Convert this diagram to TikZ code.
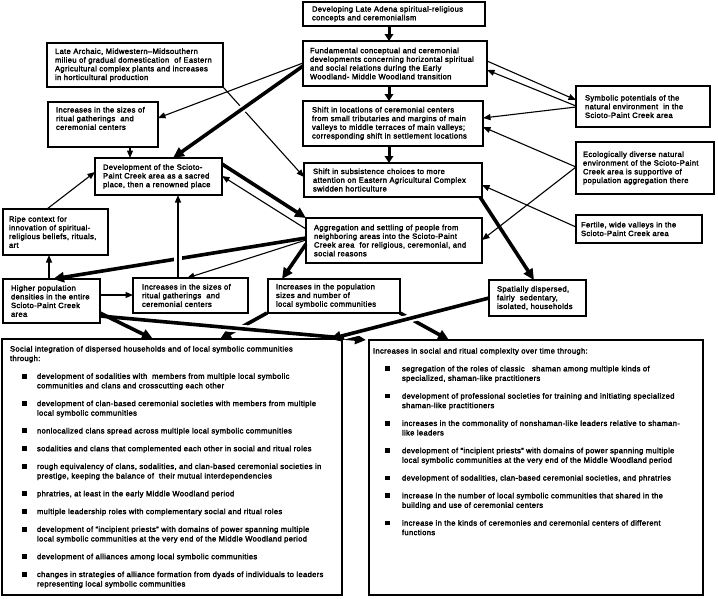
\documentclass[tikz,border=0pt]{standalone}
\usepackage{fontspec}
\setmainfont{Liberation Sans}[LetterSpace=4.5,FakeBold=2.5]
\usetikzlibrary{arrows.meta,calc}
\newcommand\bitem[2]{\par\hangindent=\dimexpr12pt+#1\relax\hangafter=1\relax\noindent\hspace*{12pt}\makebox[#1][l]{\rule[0.2pt]{4.8pt}{4.8pt}}#2}
\newcommand\bigsetup{\fontsize{7.6}{9.5}\selectfont\parindent=0pt\parskip=0pt\rightskip=0pt plus 1fil\relax}
\begin{document}
\begin{tikzpicture}[x=1pt,y=-1pt,
  sbox/.style={draw,line width=1.4pt,anchor=north west,outer sep=0pt,inner xsep=8pt,inner ysep=0pt,align=left,font=\fontsize{7.6}{8.7}\selectfont},
  bbox/.style={draw,line width=1.4pt,anchor=north west,outer sep=0pt,inner ysep=0pt},
  thinarr/.style={line width=1.1pt,-{Triangle[length=7.5pt,width=6pt]}},
  thickarr/.style={line width=3.6pt,-{Triangle[length=11pt,width=10pt]}},
  midarr/.style={line width=3pt,-{Triangle[length=7pt,width=8.5pt]}},
  halo/.style 2 args={preaction={draw=white,line width=8pt,-,shorten <=#1,shorten >=#2}},
]
\useasboundingbox (0,0) rectangle (718,598);
\path[fill=white] (0,0) rectangle (718,598);

% small boxes
\node[sbox,minimum width=182pt,minimum height=24pt,text width=164pt,inner xsep=9pt] (top) at (303,2)
  {Developing Late Adena spiritual-religious\\concepts and ceremonialism};
\node[sbox,minimum width=184pt,minimum height=45pt,text width=170pt,inner xsep=7pt] (fund) at (303,41)
  {Fundamental conceptual and ceremonial\\developments concerning horizontal spiritual\\and social relations during the Early\\Woodland- Middle Woodland transition};
\node[sbox,minimum width=176pt,minimum height=44pt,text width=160pt] (arch) at (47,43)
  {Late Archaic, Midwestern–Midsouthern\\milieu of gradual domestication\ \ of Eastern\\Agricultural complex plants and increases\\in horticultural production};
\node[sbox,minimum width=110pt,minimum height=45pt,text width=94pt] (inc1) at (48,102)
  {Increases in the sizes of\\ritual gatherings\ \ and\\ceremonial centers\\[3.5pt]\mbox{}};
\node[sbox,minimum width=180pt,minimum height=45pt,text width=162pt,inner xsep=9pt] (loc) at (303,101)
  {Shift in locations of ceremonial centers\\from small tributaries and margins of main\\valleys to middle terraces of main valleys;\\corresponding shift in settlement locations};
\node[sbox,minimum width=134pt,minimum height=41pt,text width=116pt,inner xsep=9pt] (sym) at (576,86)
  {Symbolic potentials of the\\natural environment\ \ in the\\Scioto-Paint Creek area};
\node[sbox,minimum width=178pt,minimum height=34pt,text width=160pt,inner xsep=9pt] (subs) at (304,163)
  {Shift in subsistence choices to more\\attention on Eastern Agricultural Complex\\swidden horticulture};
\node[sbox,minimum width=138pt,minimum height=52pt,text width=124pt,inner xsep=7pt] (eco) at (576,142)
  {Ecologically diverse natural\\environment of the Scioto-Paint\\Creek area is supportive of\\population aggregation there};
\node[sbox,minimum width=126pt,minimum height=28pt,text width=116pt,inner xsep=5pt] (fert) at (576,215)
  {Fertile, wide valleys in the\\Scioto-Paint Creek area};
\node[sbox,minimum width=127pt,minimum height=37pt,text width=111pt] (dev) at (95,158)
  {Development of the Scioto-\\Paint Creek area as a sacred\\place, then a renowned place};
\node[sbox,minimum width=105pt,minimum height=46pt,text width=93pt,inner xsep=6pt] (ripe) at (3,209)
  {Ripe context for\\innovation of spiritual-\\religious beliefs, rituals,\\art};
\node[sbox,minimum width=176pt,minimum height=45pt,text width=160pt] (agg) at (306,218)
  {Aggregation and settling of people from\\neighboring areas into the Scioto-Paint\\Creek area\ \ for religious, ceremonial, and\\social reasons};
\node[sbox,minimum width=97pt,minimum height=44pt,text width=81pt] (high) at (3,279)
  {Higher population\\densities in the entire\\Scioto-Paint Creek\\area};
\node[sbox,minimum width=115pt,minimum height=35pt,text width=97pt,inner xsep=9pt] (inc2) at (133,278)
  {Increases in the sizes of\\ritual gatherings\ \ and\\ceremonial centers};
\node[sbox,minimum width=132pt,minimum height=34pt,text width=116pt] (pop) at (268,279)
  {Increases in the population\\sizes and number of\\local symbolic communities};
\node[sbox,minimum width=97pt,minimum height=36pt,text width=81pt] (spat) at (489,280)
  {Spatially dispersed,\\fairly\ \ sedentary,\\isolated, households};

% big boxes
\node[bbox,inner xsep=8pt] (social) at (2,339) {\vbox to 256pt{\hsize=324pt\bigsetup\vskip 7pt
\noindent Social integration of dispersed households and of local symbolic communities\\through:\par\parskip=8.3pt
\bitem{15pt}{development of sodalities with\ \ members from multiple local symbolic\\communities and clans and crosscutting each other}
\bitem{15pt}{development of clan-based ceremonial societies with members from multiple\\local symbolic communities}
\bitem{15pt}{nonlocalized clans spread across multiple local symbolic communities}
\bitem{15pt}{sodalities and clans that complemented each other in social and ritual roles}
\bitem{15pt}{rough equivalency of clans, sodalities, and clan-based ceremonial societies in\\prestige, keeping the balance of\ \ their mutual interdependencies}
\bitem{15pt}{phratries, at least in the early Middle Woodland period}
\bitem{15pt}{multiple leadership roles with complementary social and ritual roles}
\bitem{15pt}{development of “incipient priests” with domains of power spanning multiple\\local symbolic communities at the very end of the Middle Woodland period}
\bitem{15pt}{development of alliances among local symbolic communities}
\bitem{15pt}{changes in strategies of alliance formation from dyads of individuals to leaders\\representing local symbolic communities}\par
\vfil}};
\node[bbox,inner xsep=4pt] (ritual) at (369,340) {\vbox to 255pt{\hsize=326pt\bigsetup\vskip 8pt
\noindent Increases in social and ritual complexity over time through:\par\parskip=8.3pt
\bitem{17pt}{segregation of the roles of classic\ \ \ shaman among multiple kinds of\\specialized, shaman-like practitioners}
\bitem{17pt}{development of professional societies for training and initiating specialized\\shaman-like practitioners}
\bitem{17pt}{increases in the commonality of nonshaman-like leaders relative to shaman-\\like leaders}
\bitem{17pt}{development of “incipient priests” with domains of power spanning multiple\\local symbolic communities at the very end of the Middle Woodland period}
\bitem{17pt}{development of sodalities, clan-based ceremonial societies, and phratries}
\bitem{17pt}{increase in the number of local symbolic communities that shared in the\\building and use of ceremonial centers}
\bitem{17pt}{increase in the kinds of ceremonies and ceremonial centers of different\\functions}\par
\vfil}};

% connectors
\draw[midarr] ($(top.south west)+(86,0)$) -- ($(fund.north west)+(86,0)$);
\draw[midarr] ($(fund.south west)+(86,0)$) -- ($(loc.north west)+(86,0)$);
\draw[midarr] ($(loc.south west)+(86,0)$) -- ($(subs.north west)+(85,0)$);
\draw[thinarr] (arch.south east) -- ($(subs.north west)+(0,14)$);
\draw[thinarr] ($(fund.north west)+(0,22)$) -- ($(inc1.north east)+(0,16)$);
\draw[thickarr,halo={30pt}{15pt}] ($(fund.north west)+(0,25)$) -- ($(dev.north west)+(78,0)$);
\draw[thinarr] ($(inc1.south west)+(82,0)$) -- ($(dev.north west)+(35,0)$);
\draw[thinarr] ($(ripe.north west)+(44,0)$) -- ($(dev.north west)+(0,14)$);
\draw[thinarr] ($(high.north west)+(46,0)$) -- ($(ripe.south west)+(46,0)$);
\draw[thinarr] ($(high.north east)+(0,16)$) -- ($(inc2.north west)+(0,17)$);
\draw[thickarr] ($(dev.north east)+(0,6)$) -- (agg.north west);
\draw[thinarr] ($(agg.north west)+(0,11)$) -- ($(dev.north east)+(0,18)$);
\draw[thickarr] ($(agg.north west)+(0,20)$) -- ($(high.north west)+(50,0)$);
\draw[thinarr,halo={8pt}{8pt}] ($(inc2.north west)+(45,0)$) -- ($(dev.south west)+(83,0)$);
\draw[thinarr] ($(agg.north west)+(0,22)$) -- ($(inc2.north west)+(54,0)$);
\draw[thickarr] ($(agg.north west)+(0,26)$) -- ($(pop.north west)+(14,0)$);
\draw[thinarr] ($(fund.north east)+(0,20)$) -- ($(sym.north west)+(0,14)$);
\draw[thinarr] ($(sym.north west)+(0,20)$) -- ($(fund.north east)+(0,29)$);
\draw[thinarr] ($(sym.north west)+(0,21)$) -- ($(loc.north east)+(0,17)$);
\draw[thinarr] ($(eco.north west)+(0,25)$) -- ($(loc.north east)+(0,26)$);
\draw[thinarr] ($(eco.north west)+(0,25)$) -- ($(agg.north east)+(0,22)$);
\draw[thinarr] ($(fert.north west)+(0,12)$) -- ($(subs.north east)+(0,22)$);
\draw[thickarr] ($(subs.south east)+(-2,0)$) -- ($(spat.north west)+(45,0)$);
\draw[thickarr] ($(high.north east)+(0,34)$) -- ($(social.north west)+(151,0)$);
\draw[thickarr] ($(pop.south west)+(-1,0)$) -- ($(social.north west)+(218,0)$);
\draw[thickarr,halo={40pt}{100pt}] ($(high.north east)+(0,37)$) -- ($(ritual.north west)+(-3,0)$);
\draw[thickarr] (pop.south east) -- ($(ritual.north west)+(80,0)$);
\draw[thickarr,halo={8pt}{14pt}] ($(spat.north west)+(0,18)$) -- ($(social.north west)+(328,0)$);
\end{tikzpicture}
\end{document}
